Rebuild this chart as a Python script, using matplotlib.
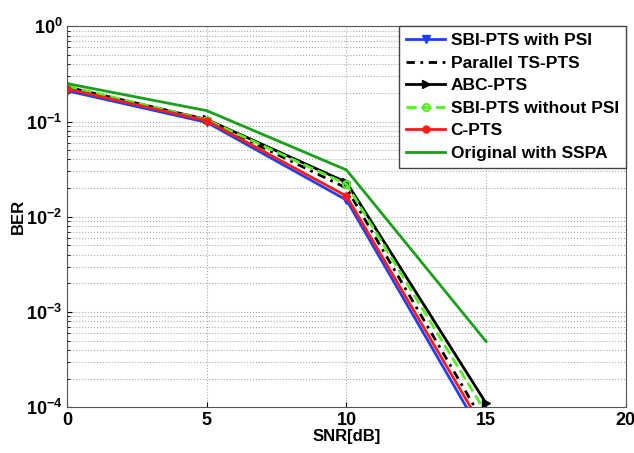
import numpy as np
import matplotlib.pyplot as plt

snr = [0, 5, 10, 15]

sbi_psi = [0.21, 0.098, 0.0150, 4.4e-5]
parallel_ts = [0.225, 0.103, 0.0200, 6.3e-5]
abc_pts = [0.23, 0.105, 0.0230, 1.1e-4]
sbi_nopsi = [0.235, 0.104, 0.0220, 8.7e-5]
c_pts = [0.22, 0.102, 0.0165, 5.3e-5]
original = [0.25, 0.13, 0.031, 4.9e-4]

plt.rcParams['font.family'] = ['Liberation Sans', 'DejaVu Sans']
plt.rcParams['font.weight'] = 'bold'

fig = plt.figure(figsize=(6.34, 4.53), dpi=100)
ax = fig.add_axes([0.106, 0.101, 0.881, 0.841])

ax.semilogy(snr, sbi_psi, '-v', color='#1f3fff', lw=2, ms=6, label='SBI-PTS with PSI')
ax.semilogy(snr, parallel_ts, color='black', lw=2, dashes=(3, 2, 1, 2),
            label='Parallel TS-PTS')
ax.semilogy(snr, abc_pts, '->', color='black', lw=2, ms=6, label='ABC-PTS')
ax.semilogy(snr, sbi_nopsi, '--o', color='#55ee22', lw=2, ms=5, mfc='none', mew=1.5,
            label='SBI-PTS without PSI')
ax.semilogy(snr, c_pts, '-o', color='#ff1a1a', lw=2, ms=5, label='C-PTS')
ax.semilogy(snr, original, '-', color='#1aa01a', lw=2, label='Original with SSPA')

ax.set_xlim(0, 20)
ax.set_ylim(1e-4, 1)
ax.set_xticks([0, 5, 10, 15, 20])
ax.grid(True, which='major', ls=':', color='#aaaaaa', lw=0.8)
ax.grid(True, which='minor', axis='y', ls=':', color='#aaaaaa', lw=0.8)
ax.tick_params(which='both', direction='in', labelsize=13)
for lab in ax.get_xticklabels() + ax.get_yticklabels():
    lab.set_fontweight('bold')
for s in ax.spines.values():
    s.set_color('#555555')

ax.set_xlabel('SNR[dB]', fontsize=12, fontweight='bold', labelpad=0)
ax.set_ylabel('BER', fontsize=12, fontweight='bold', labelpad=0)

leg = ax.legend(loc='upper right', fontsize=12.5, fancybox=False, edgecolor='#444444',
                framealpha=1, borderaxespad=0.0, handlelength=2.3, borderpad=0.4,
                labelspacing=0.42, handletextpad=0.3, numpoints=1)
for t in leg.get_texts():
    t.set_fontweight('bold')

fig.savefig('out.png', dpi=100)
